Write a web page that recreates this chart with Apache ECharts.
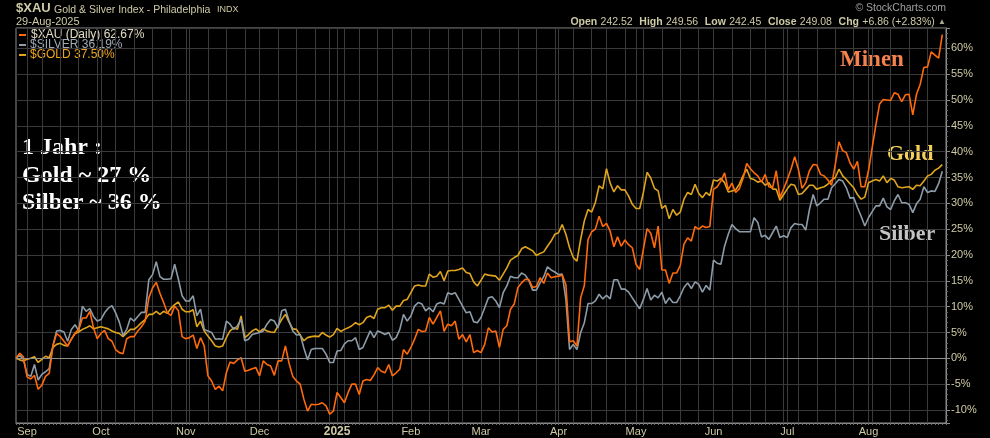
<!DOCTYPE html>
<html>
<head>
<meta charset="utf-8">
<script src="https://cdn.jsdelivr.net/npm/echarts@6/dist/echarts.min.js"></script>
<style>
  html, body { margin: 0; padding: 0; background: #000; }
  #chart { width: 990px; height: 438px; }
</style>
</head>
<body>
<div id="chart"></div>
<script>
// trading calendar (NYSE), 28-Aug-2024 .. 29-Aug-2025
const firstDay = '2024-08-28'
const lastDay = '2025-08-29'
const holidays = ['2024-09-02', '2024-11-28', '2024-12-25', '2025-01-01', '2025-01-09',
  '2025-01-20', '2025-02-17', '2025-04-18', '2025-05-26', '2025-06-19', '2025-07-04']
const monthNames = ['Jan', 'Feb', 'Mar', 'Apr', 'May', 'Jun', 'Jul', 'Aug', 'Sep', 'Oct', 'Nov', 'Dec']

// % change since 28-Aug-2024, one value per trading day
const xauPct = [
  0, 1.0, 0.3, -3.6, -4.0, -3.3, -6.0, -5.2, -3.5, -2.9,
  2.4, 4.8, 4.2, 3.3, 2.4, 3.7, 4.9, 5.6, 7.8, 7.8,
  9.1, 5.9, 3.8, 4.8, 5.4, 3.8, 3.3, 1.7, 1.1, 0.9,
  3.8, 4.2, 4.2, 5.3, 6.1, 7.2, 11.7, 13.6, 14.7, 12.6,
  10.8, 8.8, 8.3, 10.1, 9.2, 4.2, 3.8, 4.0, 4.5, 1.9,
  4.0, 2.4, -3.4, -4.4, -6.0, -5.4, -6.3, -2.8, -0.7, -1.0,
  -0.3, 0.1, -2.5, -2.3, -2.0, -1.8, -3.4, -0.5, -1.2, -1.5,
  -3.3, -0.5, -0.5, 2.4, -1.0, -3.5, -4.4, -5.0, -7.9, -10.2,
  -8.9, -9.0, -8.9, -8.6, -9.2, -10.8, -10.2, -6.6, -7.6, -8.6,
  -6.6, -5.0, -5.0, -7.0, -4.4, -4.1, -4.3, -3.2, -1.8, -2.5,
  -2.8, -1.2, -3.4, -2.8, -2.1, 1.7, 0.8, 2.1, 3.7, 5.6,
  5.2, 5.3, 7.9, 6.6, 7.9, 9.2, 5.2, 6.6, 6.3, 7.2,
  3.7, 4.6, 3.2, 4.6, 1.1, 1.5, 1.1, 2.7, 5.9, 5.1,
  5.3, 2.1, 5.6, 6.3, 9.5, 10.5, 13.7, 14.6, 15.3, 15.2,
  13.7, 13.9, 15.6, 14.5, 16.5, 15.6, 15.8, 15.9, 16.1, 14.3,
  3.2, 3.4, 2.4, 11.7, 14.1, 23.0, 24.5, 25.0, 27.5, 25.5,
  26.1, 24.6, 21.6, 23.5, 21.7, 22.9, 22.0, 21.4, 18.2, 17.2,
  21.1, 25.1, 24.2, 21.4, 25.6, 17.1, 17.1, 14.5, 16.5, 16.5,
  18.0, 22.1, 23.3, 22.7, 25.5, 25.0, 25.6, 25.3, 25.5, 32.7,
  33.2, 34.3, 35.9, 32.6, 33.9, 32.1, 32.8, 34.8, 37.7, 36.7,
  35.9, 35.3, 34.1, 35.6, 33.2, 33.0, 36.3, 31.1, 32.8, 34.6,
  36.6, 39.0, 36.6, 32.9, 34.0, 36.3, 37.5, 37.4, 35.6, 35.3,
  34.5, 33.5, 37.5, 41.9, 40.2, 39.8, 37.8, 36.6, 38.1, 33.2,
  33.2, 36.3, 40.8, 45.2, 49.2, 50.1, 50.0, 49.9, 51.4, 51.1,
  49.7, 51.0, 51.1, 47.1, 51.1, 53.0, 56.3, 56.4, 59.3, 58.7,
  58.1, 62.67
]
const silverPct = [
  0, 0.6, -0.2, -3.1, -3.5, -1.2, -4.2, -3.1, -2.6, -2.0,
  2.4, 5.3, 5.4, 5.1, 3.3, 5.6, 6.5, 5.3, 10.1, 9.1,
  9.6, 8.1, 7.2, 7.5, 8.8, 9.7, 10.2, 8.8, 7.0, 4.4,
  5.6, 7.8, 7.2, 8.1, 8.9, 8.9, 15.2, 16.2, 18.7, 15.8,
  15.3, 15.3, 15.4, 18.2, 15.3, 12.1, 11.1, 11.1, 12.1, 8.2,
  9.5, 5.6, 5.3, 5.0, 3.7, 3.8, 3.7, 7.2, 6.6, 5.6,
  6.3, 7.5, 3.4, 3.7, 4.6, 4.8, 5.0, 5.3, 6.6, 7.5,
  7.2, 5.9, 9.2, 9.5, 7.2, 5.3, 4.5, 4.6, 2.0, -0.3,
  1.7, 1.9, 1.9, 1.9, 0.8, -0.8, -0.8, 1.4, 1.5, 2.8,
  3.4, 3.4, 4.0, 1.7, 2.1, 3.7, 5.3, 4.0, 5.3, 5.0,
  4.6, 5.0, 3.5, 4.0, 5.6, 8.5, 7.2, 8.2, 10.1, 10.8,
  10.5, 9.2, 9.8, 9.0, 10.5, 10.8, 10.5, 12.7, 12.4, 12.7,
  11.4, 10.1, 8.8, 9.0, 7.1, 6.9, 7.9, 9.8, 11.7, 11.9,
  11.1, 9.8, 12.7, 14.0, 15.9, 15.6, 15.6, 16.5, 16.1, 15.0,
  13.2, 13.2, 14.6, 15.8, 17.7, 17.1, 16.7, 16.2, 16.3, 11.4,
  1.7, 2.7, 1.7, 5.0, 6.9, 10.6, 10.6, 11.1, 12.4, 11.5,
  12.2, 11.5, 15.2, 15.2, 13.4, 13.4, 12.8, 11.7, 10.6, 9.6,
  11.4, 13.5, 11.3, 12.2, 11.7, 12.8, 10.6, 11.7, 10.8, 10.8,
  12.1, 13.7, 14.6, 13.5, 14.8, 14.3, 12.8, 14.1, 13.2, 19.0,
  18.4, 18.2, 21.7, 24.0, 25.9, 25.1, 24.5, 24.5, 24.5, 24.5,
  27.2, 26.3, 23.5, 23.8, 23.0, 24.3, 25.6, 23.4, 23.7, 23.4,
  25.3, 26.1, 25.9, 25.9, 24.8, 28.8, 31.7, 29.5, 30.1, 30.8,
  30.8, 33.0, 33.8, 34.6, 34.3, 33.0, 31.0, 31.1, 29.2, 27.5,
  25.6, 27.2, 28.4, 29.5, 29.5, 31.0, 29.3, 28.8, 30.5, 31.7,
  30.1, 30.1, 29.8, 28.2, 29.9, 30.8, 33.2, 32.1, 32.4, 32.3,
  33.8, 36.19
]
const goldPct = [
  0, -0.3, -0.5, -0.2, 0.0, 0.3, -0.8, -0.2, 0.4, 0.1,
  2.1, 2.7, 2.9, 2.5, 2.4, 3.7, 4.8, 5.1, 5.6, 5.9,
  6.3, 5.7, 5.9, 6.1, 5.9, 5.7, 5.3, 5.0, 4.8, 4.2,
  4.9, 5.6, 5.6, 6.2, 6.9, 7.5, 8.5, 8.5, 9.1, 8.5,
  9.1, 8.7, 9.7, 10.4, 10.9, 9.5, 9.0, 9.0, 9.4, 6.1,
  7.2, 5.3, 4.3, 3.4, 2.4, 2.2, 2.4, 4.0, 5.3, 5.9,
  5.6, 8.2, 4.0, 4.6, 5.3, 5.7, 5.1, 5.7, 5.3, 5.1,
  5.0, 6.3, 7.5, 8.5, 7.0, 5.7, 5.6, 4.5, 3.4, 4.0,
  4.2, 4.3, 4.2, 5.0, 4.5, 4.1, 4.6, 5.8, 5.2, 5.6,
  5.9, 6.3, 6.9, 6.5, 6.9, 7.9, 8.2, 7.7, 9.5, 9.8,
  9.8, 10.3, 9.3, 10.1, 10.1, 11.2, 11.4, 12.7, 14.0, 14.2,
  14.0, 14.0, 16.3, 15.7, 15.9, 16.8, 15.0, 16.9, 17.0, 17.0,
  17.2, 17.5, 16.6, 16.4, 14.8, 14.0, 15.1, 16.3, 16.1, 16.0,
  15.9, 15.1, 16.3, 17.5, 19.0, 19.5, 19.9, 21.2, 21.6, 21.2,
  20.8, 19.9, 20.3, 20.6, 21.7, 22.7, 24.0, 24.3, 25.9, 24.0,
  21.4, 19.5, 18.8, 23.0, 26.6, 28.8, 28.3, 30.2, 33.4, 32.8,
  36.7, 33.9, 32.2, 33.4, 32.6, 32.6, 31.4, 29.8, 29.0, 29.0,
  32.1, 36.0, 34.9, 32.9, 32.4, 29.0, 29.6, 27.0, 28.8, 27.7,
  28.3, 30.8, 32.1, 31.7, 33.7, 31.9, 31.1, 32.1, 31.5, 34.5,
  34.3, 34.8, 34.0, 32.2, 32.4, 32.6, 33.7, 35.3, 36.6, 34.8,
  34.6, 34.1, 34.3, 33.5, 34.0, 32.8, 32.7, 30.6, 31.7, 32.8,
  33.7, 33.5, 31.7, 31.9, 32.7, 33.5, 33.5, 32.7, 33.0, 33.2,
  33.7, 34.5, 35.0, 36.6, 35.3, 34.6, 33.8, 33.0, 31.7, 30.8,
  31.2, 34.0, 34.3, 34.6, 34.3, 35.3, 34.0, 34.8, 34.5, 33.2,
  33.0, 33.1, 33.2, 32.7, 33.5, 33.4, 34.3, 35.3, 35.6, 36.4,
  36.8, 37.50
]

function tradingDays() {
  const out = []
  const d = new Date(firstDay + 'T00:00:00Z')
  const end = new Date(lastDay + 'T00:00:00Z')
  while (d <= end) {
    const wd = d.getUTCDay()
    const s = d.toISOString().slice(0, 10)
    if (wd !== 0 && wd !== 6 && holidays.indexOf(s) < 0) out.push(s)
    d.setUTCDate(d.getUTCDate() + 1)
  }
  return out
}

const days = tradingDays()
const axisDays = days.concat(['']) // one empty slot = right margin like stockcharts

const weekday = s => new Date(s + 'T00:00:00Z').getUTCDay()
const isMonthStart = i => i > 0 && !!days[i] && days[i].slice(5, 7) !== days[i - 1].slice(5, 7)
const isWeekStart = i => i > 0 && !!days[i] && weekday(days[i]) < weekday(days[i - 1])

const txt = '#cfcba6'
const grey = '#8c8c8c'
const gridCol = '#3a3a3a'
const serif = '"Liberation Serif", "DejaVu Serif", serif'
const sans = '"Liberation Sans", Arial, sans-serif'
const last = a => a[a.length - 1].toFixed(2) + '%'

const myChart = echarts.init(document.getElementById('chart'))

const option = {
  backgroundColor: '#000',
  animation: false,
  grid: {
    left: 16, right: 44, top: 28, bottom: 15,
    show: true, borderColor: grey, borderWidth: 1
  },
  xAxis: {
    type: 'category',
    data: axisDays,
    boundaryGap: false,
    axisLine: { show: true, onZero: false, lineStyle: { color: grey } },
    axisTick: { show: true, interval: 0, length: 2, lineStyle: { color: '#707070' } },
    splitLine: {
      show: true,
      interval: (i) => isMonthStart(i) || isWeekStart(i),
      lineStyle: { color: gridCol, width: 1 }
    },
    axisLabel: {
      interval: (i) => isMonthStart(i),
      margin: 3,
      color: txt,
      fontFamily: sans,
      fontSize: 11,
      formatter: (v) => {
        if (!v) return ''
        const m = +v.slice(5, 7)
        return m === 1 ? '{y|' + v.slice(0, 4) + '}' : monthNames[m - 1]
      },
      rich: { y: { fontWeight: 'bold', fontSize: 12, color: txt, fontFamily: sans } }
    }
  },
  yAxis: {
    type: 'value',
    position: 'right',
    min: -12.52,
    max: 63.93,
    minInterval: 5,
    maxInterval: 5,
    axisLine: { show: true, lineStyle: { color: grey } },
    axisTick: { show: true, length: 4, lineStyle: { color: grey } },
    minorTick: { show: true, splitNumber: 5, length: 2, lineStyle: { color: '#6a6a6a' } },
    splitLine: { show: true, lineStyle: { color: gridCol, width: 1 } },
    axisLabel: {
      color: txt,
      fontFamily: sans,
      fontSize: 11,
      margin: 5,
      formatter: (v) => (Math.abs(v % 5) < 1e-6 ? v + '%' : '')
    }
  },
  series: [
    {
      name: 'zero',
      type: 'line',
      data: [],
      silent: true,
      markLine: {
        silent: true,
        symbol: ['none', 'none'],
        label: { show: false },
        emphasis: { disabled: true },
        lineStyle: { color: '#8f8f8f', type: 'solid', width: 1, opacity: 1 },
        data: [{ yAxis: 0 }]
      }
    },
    {
      name: '$GOLD',
      type: 'line',
      data: goldPct,
      showSymbol: false,
      lineStyle: { color: '#e0a51c', width: 1.6 }
    },
    {
      name: '$SILVER',
      type: 'line',
      data: silverPct,
      showSymbol: false,
      lineStyle: { color: '#8d9ca8', width: 1.6 }
    },
    {
      name: '$XAU',
      type: 'line',
      data: xauPct,
      showSymbol: false,
      lineStyle: { color: '#ff6a0a', width: 1.6 }
    }
  ],
  graphic: [
    // header
    { type: 'text', left: 16, top: 2, style: { text: '$XAU', fill: txt, font: 'bold 13px ' + sans } },
    {
      type: 'text', left: 54, top: 4,
      style: {
        text: '{a|Gold & Silver Index - Philadelphia}  {b|INDX}',
        rich: {
          a: { fill: txt, font: '10.5px ' + sans },
          b: { fill: txt, font: '9px ' + sans }
        }
      }
    },
    { type: 'text', left: 16, top: 16, style: { text: '29-Aug-2025', fill: txt, font: '11px ' + sans } },
    { type: 'text', right: 44, top: 3, style: { text: '© StockCharts.com', fill: '#a0a0a0', font: '10.5px ' + sans } },
    {
      type: 'text', right: 44, top: 16,
      style: {
        text: '{k|Open} {v|242.52}  {k|High} {v|249.56}  {k|Low} {v|242.45}  {k|Close} {v|249.08}  {k|Chg} {v|+6.86 (+2.83%)} {t|▲}',
        rich: {
          k: { fill: txt, font: 'bold 10.5px ' + sans },
          v: { fill: txt, font: '10.5px ' + sans },
          t: { fill: '#a8a890', font: '8px ' + sans }
        }
      }
    },
    // legend
    { type: 'rect', shape: { x: 19, y: 34, width: 7, height: 2 }, style: { fill: '#ff6a0a' } },
    { type: 'text', left: 31, top: 29, style: { text: '$XAU (Daily) ' + last(xauPct), fill: '#e2dcc4', font: '12px ' + sans } },
    { type: 'rect', shape: { x: 19, y: 44, width: 7, height: 2 }, style: { fill: '#8d9ca8' } },
    { type: 'text', left: 30, top: 39, style: { text: '$SILVER ' + last(silverPct), fill: '#9eaab6', font: '12px ' + sans } },
    { type: 'rect', shape: { x: 19, y: 54, width: 7, height: 2 }, style: { fill: '#e0a51c' } },
    { type: 'text', left: 30, top: 49, style: { text: '$GOLD ' + last(goldPct), fill: '#f0a41e', font: '12px ' + sans } },
    // annotations
    { type: 'text', left: 22, top: 136, style: { text: '1 Jahr :', fill: '#ffffff', font: 'bold 24px ' + serif } },
    { type: 'text', left: 22, top: 164, style: { text: 'Gold ~ 27 %', fill: '#ffffff', font: 'bold 24px ' + serif } },
    { type: 'text', left: 22, top: 191, style: { text: 'Silber ~ 36 %', fill: '#ffffff', font: 'bold 24px ' + serif } },
    { type: 'text', left: 840, top: 49, style: { text: 'Minen', fill: '#f5824c', font: 'bold 23px ' + serif } },
    { type: 'text', left: 887, top: 143, style: { text: 'Gold', fill: '#f3cf5c', font: 'bold 22px ' + serif } },
    { type: 'text', left: 879, top: 223, style: { text: 'Silber', fill: '#c4c4c4', font: 'bold 22px ' + serif } }
  ]
}

myChart.setOption(option)
</script>
</body>
</html>
